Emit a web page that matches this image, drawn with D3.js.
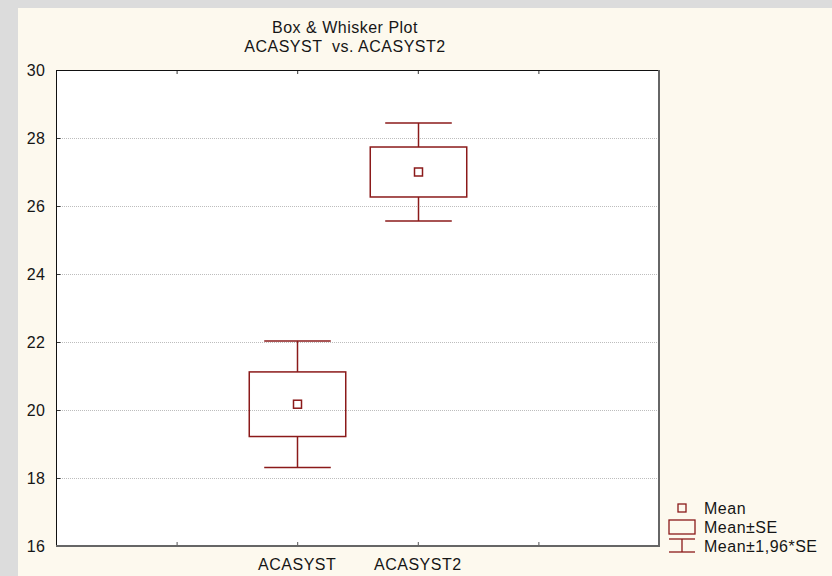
<!DOCTYPE html>
<html>
<head>
<meta charset="utf-8">
<script src="https://cdn.jsdelivr.net/npm/d3@7/dist/d3.min.js"></script>
<style>
  html, body { margin: 0; padding: 0; background: #dcdcdc; }
  svg { display: block; font-family: "Liberation Sans", Arial, sans-serif; }
  svg text { letter-spacing: 0.5px; }
</style>
</head>
<body>
<svg id="chart" width="832" height="576"></svg>
<script>
// Variables and summary statistics
const categories = ["ACASYST", "ACASYST2"];
const means = [20.17, 27.0];
const stdErrors = [0.95, 0.735];
const seMultiplier = 1.96;
const yTicks = [16, 18, 20, 22, 24, 26, 28, 30];
const titleLines = ["Box & Whisker Plot", "ACASYST  vs. ACASYST2"];
const legendLabels = ["Mean", "Mean±SE", "Mean±1,96*SE"];

const W = 832, H = 576;
const plot = { left: 56, top: 70, right: 659, bottom: 546 };
const markColor = "#8b1a1a";
const textColor = "#161616";
const fontSize = 16;

const svg = d3.select("#chart");

// cream panel over gray backdrop
svg.append("rect").attr("x", 18).attr("y", 8).attr("width", W - 18).attr("height", H - 8)
  .attr("fill", "#fdf9ee");
svg.append("rect").attr("x", plot.left).attr("y", plot.top)
  .attr("width", plot.right - plot.left).attr("height", plot.bottom - plot.top)
  .attr("fill", "#ffffff");

const y = d3.scaleLinear().domain([16, 30]).range([plot.bottom, plot.top]);
// category slots: positions 2 and 3 on a 0..5 scale
const x = d3.scaleLinear().domain([0, 5]).range([plot.left, plot.right]);
const catPos = categories.map((c, i) => i + 2);
const unit = x(1) - x(0);

// dotted grid lines
svg.append("g").selectAll("line").data(yTicks.filter(t => t > 16 && t < 30)).join("line")
  .attr("x1", plot.left).attr("x2", plot.right)
  .attr("y1", d => y(d) + 0.5).attr("y2", d => y(d) + 0.5)
  .attr("stroke", "#bdbdbd").attr("stroke-width", 1).attr("stroke-dasharray", "1,1");

// y axis: ticks point into the plot
const yAxis = d3.axisLeft(y).tickValues(yTicks).tickSize(-4).tickPadding(11).tickFormat(d3.format("d"));
const gy = svg.append("g").attr("transform", `translate(${plot.left + 0.5},0)`).call(yAxis);
gy.select(".domain").remove();
gy.selectAll(".tick line").attr("stroke", "#333");
gy.selectAll("text").attr("font-size", fontSize).attr("fill", textColor)
  .attr("font-family", "Liberation Sans, Arial, sans-serif");

// x axis ticks (bottom and top) and category labels
const xTickVals = [1, 2, 3, 4];
const gx = svg.append("g").attr("transform", `translate(0,${plot.bottom})`)
  .call(d3.axisBottom(x).tickValues(xTickVals).tickSize(-4).tickFormat(""));
gx.select(".domain").remove();
gx.selectAll(".tick line").attr("stroke", "#555");
const gxt = svg.append("g").attr("transform", `translate(0,${plot.top})`)
  .call(d3.axisTop(x).tickValues(xTickVals).tickSize(-4).tickFormat(""));
gxt.select(".domain").remove();
gxt.selectAll(".tick line").attr("stroke", "#333");

svg.append("g").selectAll("text").data(categories).join("text")
  .attr("x", (d, i) => x(catPos[i])).attr("y", plot.bottom + 24)
  .attr("text-anchor", "middle").attr("font-size", fontSize).attr("fill", textColor)
  .text(d => d);

// frame: dark top/left, gray shaded right/bottom
svg.append("line").attr("x1", plot.left + 0.5).attr("x2", plot.left + 0.5)
  .attr("y1", plot.top).attr("y2", plot.bottom).attr("stroke", "#111");
svg.append("line").attr("x1", plot.left).attr("x2", plot.right)
  .attr("y1", plot.top + 0.5).attr("y2", plot.top + 0.5).attr("stroke", "#111");
svg.append("line").attr("x1", plot.right).attr("x2", plot.right)
  .attr("y1", plot.top).attr("y2", plot.bottom + 1).attr("stroke", "#666").attr("stroke-width", 2);
svg.append("line").attr("x1", plot.left).attr("x2", plot.right + 1)
  .attr("y1", plot.bottom).attr("y2", plot.bottom).attr("stroke", "#666").attr("stroke-width", 2);

// boxes and whiskers
const boxHalf = unit * 0.4;
const capHalf = unit * 0.276;
const stats = categories.map((c, i) => ({
  pos: catPos[i], mean: means[i], se: stdErrors[i]
}));
const g = svg.append("g").attr("stroke", markColor).attr("fill", "none").attr("stroke-width", 1.5);
stats.forEach(s => {
  const cx = Math.round(x(s.pos)) + 0.5;
  const hi = s.mean + seMultiplier * s.se, lo = s.mean - seMultiplier * s.se;
  g.append("line").attr("x1", cx).attr("x2", cx).attr("y1", y(hi)).attr("y2", y(s.mean + s.se));
  g.append("line").attr("x1", cx).attr("x2", cx).attr("y1", y(s.mean - s.se)).attr("y2", y(lo));
  g.append("line").attr("x1", cx - capHalf).attr("x2", cx + capHalf).attr("y1", y(hi)).attr("y2", y(hi));
  g.append("line").attr("x1", cx - capHalf).attr("x2", cx + capHalf).attr("y1", y(lo)).attr("y2", y(lo));
  g.append("rect").attr("x", cx - boxHalf).attr("y", y(s.mean + s.se))
    .attr("width", boxHalf * 2).attr("height", y(s.mean - s.se) - y(s.mean + s.se));
  g.append("rect").attr("x", cx - 4).attr("y", y(s.mean) - 4).attr("width", 8).attr("height", 8);
});

// title
svg.append("g").selectAll("text").data(titleLines).join("text")
  .attr("x", 345).attr("y", (d, i) => 33 + i * 19)
  .attr("text-anchor", "middle").attr("font-size", fontSize).attr("fill", textColor)
  .attr("xml:space", "preserve").style("white-space", "pre")
  .text(d => d);

// legend
const lg = svg.append("g").attr("fill", "none").attr("stroke", markColor).attr("stroke-width", 1.3);
const lx = 682;
const rowY = [508, 527, 546];
lg.append("rect").attr("x", lx - 4).attr("y", rowY[0] - 4).attr("width", 8).attr("height", 8);
lg.append("rect").attr("x", lx - 13).attr("y", rowY[1] - 7).attr("width", 26).attr("height", 14);
lg.append("line").attr("x1", lx - 13).attr("x2", lx + 13).attr("y1", rowY[2] - 7).attr("y2", rowY[2] - 7);
lg.append("line").attr("x1", lx - 13).attr("x2", lx + 13).attr("y1", rowY[2] + 6).attr("y2", rowY[2] + 6);
lg.append("line").attr("x1", lx).attr("x2", lx).attr("y1", rowY[2] - 7).attr("y2", rowY[2] + 6);
svg.append("g").selectAll("text").data(legendLabels).join("text")
  .attr("x", 704).attr("y", (d, i) => rowY[i] + 6)
  .attr("font-size", fontSize).attr("fill", textColor).text(d => d);
</script>
</body>
</html>
